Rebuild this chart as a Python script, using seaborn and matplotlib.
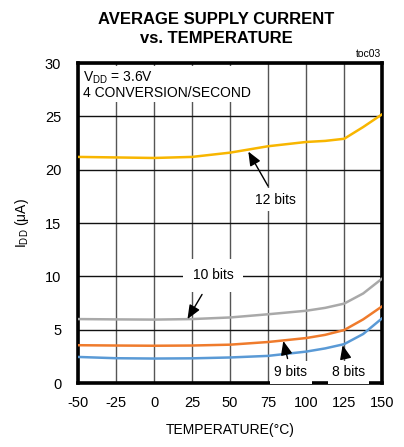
import matplotlib
matplotlib.use("Agg")
import matplotlib.pyplot as plt
import seaborn as sns
import pandas as pd

temps = [-50, -25, 0, 25, 50, 75, 100, 112.5, 125, 137.5, 150]
i_12 = [21.2, 21.15, 21.1, 21.2, 21.6, 22.2, 22.6, 22.7, 22.9, 24.0, 25.2]
i_10 = [6.0, 5.97, 5.95, 6.0, 6.15, 6.45, 6.78, 7.05, 7.45, 8.4, 9.8]
i_9 = [3.55, 3.52, 3.5, 3.52, 3.6, 3.85, 4.22, 4.52, 4.97, 5.97, 7.2]
i_8 = [2.45, 2.33, 2.3, 2.32, 2.4, 2.55, 2.95, 3.25, 3.65, 4.6, 6.08]
series = ["12 bits", "10 bits", "9 bits", "8 bits"]
colors = ["#F8B600", "#A9A9A9", "#EF7B2C", "#5A9AD6"]
x_ticks = [-50, -25, 0, 25, 50, 75, 100, 125, 150]
y_ticks = [0, 5, 10, 15, 20, 25, 30]

rows = []
for name, vals in zip(series, [i_12, i_10, i_9, i_8]):
    for t, v in zip(temps, vals):
        rows.append({"T": t, "I": v, "series": name})
df = pd.DataFrame(rows)

sns.set_style("white")
plt.rcParams["font.family"] = ["Liberation Sans", "DejaVu Sans"]
plt.rcParams["mathtext.fontset"] = "custom"
plt.rcParams["mathtext.rm"] = "Liberation Sans"
plt.rcParams["mathtext.it"] = "Liberation Sans"
plt.rcParams["text.color"] = "black"
plt.rcParams["axes.labelcolor"] = "black"
plt.rcParams["xtick.color"] = "black"
plt.rcParams["ytick.color"] = "black"

fig = plt.figure(figsize=(4.04, 4.47), dpi=100)
ax = fig.add_axes([0.193, 0.143, 0.753, 0.716])

sns.lineplot(data=df, x="T", y="I", hue="series", palette=colors,
             hue_order=series, ax=ax, legend=False, linewidth=1.8, zorder=3)
for ln in ax.get_lines():
    ln.set_solid_capstyle("round")
    ln.set_solid_joinstyle("round")

ax.set_xlim(-50, 150)
ax.set_ylim(0, 30)
ax.set_xticks(x_ticks)
ax.set_yticks(y_ticks)
ax.set_xticklabels([str(t) for t in x_ticks])
ax.set_yticklabels([str(t) for t in y_ticks])
ax.tick_params(axis="both", length=0, labelsize=10.5, colors="black", labelcolor="black")
ax.tick_params(axis="x", pad=9)
ax.tick_params(axis="y", pad=12)
ax.xaxis.grid(True, color="#555555", linewidth=1.0, zorder=1)
ax.yaxis.grid(True, color="#111111", linewidth=1.0, zorder=1)
ax.set_axisbelow(True)
for s in ax.spines.values():
    s.set_linewidth(2.6)
    s.set_color("black")

ax.set_xlabel("TEMPERATURE(°C)", fontsize=10, labelpad=10, color="black")
ax.set_ylabel(r"I$_{\rm DD}$ ($\rm\mu$A)", fontsize=10, labelpad=10, color="black")

fig.text(0.535, 0.935, "AVERAGE SUPPLY CURRENT\nvs. TEMPERATURE", ha="center", va="center",
         fontsize=12, fontweight="bold", linespacing=1.35, color="black")
fig.text(0.944, 0.868, "toc03", ha="right", va="bottom", fontsize=7.5, color="black")

ax.text(-47, 29.4, r"V$_{\rm DD}$ = 3.6V" + "\n4 CONVERSION/SECOND", ha="left", va="top",
        fontsize=10, linespacing=1.0, zorder=5, color="black",
        bbox=dict(facecolor="white", edgecolor="none", pad=1.5))

arrow = dict(arrowstyle="-|>,head_length=0.6,head_width=0.25", color="black", lw=1.0,
             mutation_scale=14, shrinkA=2, shrinkB=0)
box = dict(facecolor="white", edgecolor="none", pad=3)
ax.annotate("12 bits", xy=(62, 21.7), xytext=(80, 17.2), ha="center", va="center",
            fontsize=10, arrowprops=arrow, bbox=box, zorder=6, color="black")
ax.annotate("10 bits", xy=(22, 6.0), xytext=(39, 10.1), ha="center", va="center",
            fontsize=10, arrowprops=arrow, color="black",
            bbox=dict(facecolor="white", edgecolor="none", pad=7), zorder=6)
ax.annotate("9 bits", xy=(85, 3.95), xytext=(90, 1.0), ha="center", va="center",
            fontsize=10, arrowprops=arrow, bbox=box, zorder=6, color="black")
ax.annotate("8 bits", xy=(124, 3.55), xytext=(128, 1.0), ha="center", va="center",
            fontsize=10, arrowprops=arrow, bbox=box, zorder=6, color="black")

fig.savefig("out.png", dpi=100)
